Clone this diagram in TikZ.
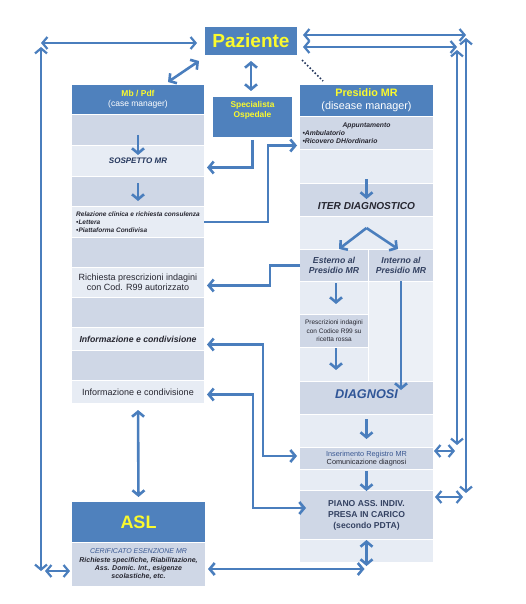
\documentclass[tikz,border=0pt]{standalone}
\usepackage{fontspec}
\setmainfont{Liberation Sans}
\usetikzlibrary{positioning,arrows.meta}
\definecolor{boxblue}{RGB}{79,129,189}
\definecolor{lineblue}{RGB}{74,126,189}
\definecolor{yel}{RGB}{250,250,45}
\definecolor{rowdk}{RGB}{207,215,230}
\definecolor{rowlt}{RGB}{231,236,244}
\definecolor{txtdk}{RGB}{38,38,48}
\definecolor{navy}{RGB}{36,54,92}
\definecolor{slate}{RGB}{52,66,98}
\definecolor{diagblue}{RGB}{47,85,151}
\definecolor{insblue}{RGB}{58,88,146}
\newcommand{\fsz}[2]{\fontsize{#1}{#2}\selectfont}

\begin{document}
\begin{tikzpicture}[x=1pt,y=-1pt,node distance=1pt,
  hdr/.style={rectangle,fill=boxblue,text=white,align=center,inner sep=1pt,outer sep=0pt},
  dk/.style={rectangle,fill=rowdk,text=txtdk,align=center,inner sep=2pt,outer sep=0pt},
  lt/.style={dk,fill=rowlt},
  lcol/.style={minimum width=132pt},
  rcol/.style={minimum width=133pt},
  arr/.style={draw=lineblue,line width=2.6pt,-{Straight Barb[length=5pt,width=12pt]}},
  dbl/.style={arr,{Straight Barb[length=5pt,width=12pt]}-{Straight Barb[length=5pt,width=12pt]}},
  frame/.style={dbl,line width=2.2pt}]
  \useasboundingbox (0,0) rectangle (525,604);

  % top boxes
  \node[hdr,minimum width=92pt,minimum height=28pt,font=\fsz{19}{22}\bfseries,text=yel] (paz) at (251,41) {Paziente};
  \node[hdr,minimum width=79pt,minimum height=40pt] (spec) at (252.5,117) {};
  \node[text=yel,align=center,font=\fsz{8.4}{10}\bfseries] (spectxt) at ([yshift=7pt]spec.center) {Specialista\\Ospedale};

  % left column
  \node[hdr,lcol,minimum height=29pt,anchor=north,font=\fsz{8.5}{10}] (mb) at (138,85) {{\color{yel}\bfseries Mb / Pdf}\\(case manager)};
  \node[dk,lcol,minimum height=30pt,below=of mb] (l1) {};
  \node[lt,lcol,minimum height=30pt,below=of l1,font=\fsz{8}{10}\bfseries\itshape,text=navy] (sosp) {SOSPETTO MR};
  \node[dk,lcol,minimum height=29pt,below=of sosp] (l3) {};
  \node[lt,lcol,minimum height=30pt,below=of l3,align=left,font=\fsz{6.5}{8}\bfseries\itshape] (rel) {Relazione clinica e richiesta consulenza\\•Lettera\\•Piattaforma Condivisa};
  \node[dk,lcol,minimum height=29pt,below=of rel] (l5) {};
  \node[lt,lcol,minimum height=29pt,below=of l5,font=\fsz{9}{10}] (rich) {Richiesta prescrizioni indagini\\con Cod. R99 autorizzato};
  \node[dk,lcol,minimum height=29pt,below=of rich] (l7) {};
  \node[lt,lcol,minimum height=22pt,below=of l7,font=\fsz{8.7}{10}\bfseries\itshape] (info1) {Informazione e condivisione};
  \node[dk,lcol,minimum height=29pt,below=of info1] (l9) {};
  \node[lt,lcol,minimum height=22pt,below=of l9,font=\fsz{9}{10}] (info2) {Informazione e condivisione};

  % right column
  \node[hdr,rcol,minimum height=31pt,anchor=north,font=\fsz{10.8}{13}] (pres) at (366.5,85) {{\color{yel}\bfseries Presidio MR}\\(disease manager)};
  \node[dk,rcol,minimum height=32pt,below=of pres,align=left,text width=128pt,font=\fsz{6.8}{8}\bfseries\itshape] (appt) {\makebox[128pt]{Appuntamento}\\•Ambulatorio\\•Ricovero DH/ordinario};
  \node[lt,rcol,minimum height=33pt,below=of appt] (r3) {};
  \node[dk,rcol,minimum height=32pt,below=of r3] (iter) {};
  \node[text=txtdk,font=\fsz{10.1}{12}\bfseries\itshape] (itertxt) at ([yshift=-6.5pt]iter.center) {ITER DIAGNOSTICO};
  \node[lt,rcol,minimum height=32pt,below=of iter] (r5) {};
  \node[dk,minimum width=68pt,minimum height=31pt,below=1pt of r5.south west,anchor=north west,text=slate,font=\fsz{8.7}{10}\bfseries\itshape] (est) {Esterno al\\Presidio MR};
  \node[dk,minimum width=64pt,minimum height=31pt,right=of est,text=slate,font=\fsz{8.7}{10}\bfseries\itshape] (int) {Interno al\\Presidio MR};
  \node[lt,minimum width=68pt,minimum height=32pt,below=of est] (e2) {};
  \node[dk,minimum width=68pt,minimum height=32pt,below=of e2,font=\fsz{6.5}{8.5}] (presc) {Prescrizioni indagini\\con Codice R99 su\\ricetta rossa};
  \node[lt,minimum width=68pt,minimum height=33pt,below=of presc] (e4) {};
  \node[lt,minimum width=64pt,minimum height=99pt,below=of int,fill=rowlt!80!white] (i2) {};
  \node[dk,rcol,minimum height=32pt,below=1pt of e4.south west,anchor=north west] (diag) {};
  \node[text=diagblue,font=\fsz{12.7}{15}\bfseries\itshape] (diagtxt) at ([yshift=4pt]diag.center) {DIAGNOSI};
  \node[lt,rcol,minimum height=32pt,below=of diag] (r11) {};
  \node[dk,rcol,minimum height=21pt,below=of r11,font=\fsz{7.3}{8.5}] (ins) {{\color{insblue}Inserimento Registro MR}\\Comunicazione diagnosi};
  \node[lt,rcol,minimum height=20pt,below=of ins] (r13) {};
  \node[dk,rcol,minimum height=48pt,below=of r13,text=slate,font=\fsz{8.6}{11}\bfseries] (piano) {PIANO ASS. INDIV.\\PRESA IN CARICO\\(secondo PDTA)};
  \node[lt,rcol,minimum height=22pt,below=of piano] (r15) {};

  % ASL
  \node[hdr,minimum width=133pt,minimum height=40pt,anchor=north,font=\fsz{18}{20}\bfseries,text=yel] (asl) at (138.5,502) {ASL};
  \node[dk,minimum width=133pt,minimum height=43pt,below=of asl,font=\fsz{7}{8.3}\bfseries\itshape,text=txtdk] (asl2) {{\color{insblue}\mdseries CERIFICATO ESENZIONE MR}\\Richieste specifiche, Riabilitazione,\\Ass. Domic. Int., esigenze\\scolastiche, etc.};

  % outer frame
  \coordinate (tl) at (41,43);
  \coordinate (bl) at (41,571);
  \coordinate (tr1) at (466,35);
  \coordinate (tr2) at (457,47);
  \coordinate (br1) at (466,493);
  \coordinate (br2) at (457,445);
  \coordinate (sr1) at (455,451);
  \coordinate (sr2) at (463,497);
  \draw[frame,shorten <=8pt] (paz.west |- tl) -- (tl);
  \draw[frame] ([yshift=-4pt]tl) -- (bl);
  \draw[frame,shorten >=2pt] ([xshift=4pt]bl) -- (asl2.west |- bl);
  \draw[frame,shorten <=6pt] (paz.east |- tr1) -- (tr1);
  \draw[frame,shorten <=6pt] (paz.east |- tr2) -- (tr2);
  \draw[frame] ([yshift=-3pt]tr1) -- (br1);
  \draw[frame] ([yshift=-3pt]tr2) -- (br2);
  \draw[frame,shorten <=1pt] (ins.east |- sr1) -- (sr1);
  \draw[frame,shorten <=2pt] (piano.east |- sr2) -- (sr2);

  % links
  \draw[dbl] ([xshift=-36pt,yshift=3pt]mb.north east) -- ([xshift=-6pt,yshift=-6pt]paz.south west);
  \draw[dbl,shorten <=6pt,shorten >=6pt] (paz.south) -- (paz.south |- spec.north);
  \draw[navy,dotted,line width=1.6pt] ([xshift=5pt,yshift=-5pt]paz.south east) -- ([xshift=23pt,yshift=4pt]pres.north west);
  \draw[arr,shorten <=3pt,shorten >=3pt] (spec.south) |- ([yshift=-6.5pt]sosp.east);
  \draw[arr,shorten >=3pt] (rel.east) -- ++(64,0) |- ([yshift=-12.5pt]appt.west);
  \draw[arr,shorten >=3pt] (est.west) -- ++(-30,0) |- ([yshift=-3pt]rich.east);
  \draw[dbl,shorten <=3pt,shorten >=3pt] ([yshift=-5.5pt]info1.east) -- ++(59,0) |- ([yshift=2.5pt]ins.west);
  \draw[dbl,shorten <=3pt] ([yshift=-2.5pt]info2.east) -- ++(49,0) |- ([xshift=6pt,yshift=7pt]piano.west);
  \draw[dbl,shorten <=7pt,shorten >=5pt] (info2.south) -- (asl.north);
  \coordinate (pdta) at ([yshift=-30pt]piano.south);
  \draw[dbl,shorten <=1pt] (piano.south) -- ([yshift=3pt]pdta);
  \draw[dbl,shorten <=3pt,shorten >=2pt] (asl2.east |- pdta) -- (pdta);

  % flow inside the columns
  \draw[arr] ([yshift=10pt]l1.south) -- ++(0,20);
  \draw[arr] ([yshift=-6pt]l3.north) -- ++(0,18);
  \draw[arr] ([yshift=5pt]iter.north) -- ++(0,20);
  \draw[arr] ([yshift=-11pt]r5.north) -- ([xshift=5pt,yshift=1pt]est.north);
  \draw[arr] ([yshift=-11pt]r5.north) -- ([xshift=-3pt,yshift=1pt]int.north);
  \draw[arr] ([xshift=2pt,yshift=-2pt]est.south) -- ++(0,21);
  \draw[arr] ([xshift=2pt,yshift=-1pt]presc.south) -- ++(0,22);
  \draw[arr] (int.south) -- ++(0,109);
  \draw[arr] ([yshift=-5pt]diag.south) -- ++(0,20);
  \draw[arr] ([yshift=-2pt]ins.south) -- (piano.north);
\end{tikzpicture}
\end{document}
